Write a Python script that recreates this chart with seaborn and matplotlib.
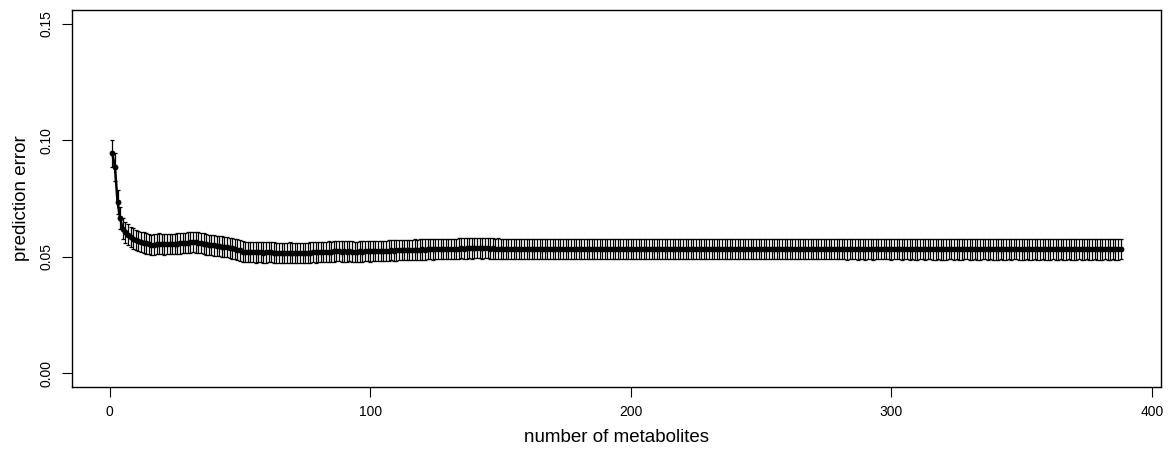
import numpy as np
import pandas as pd
import matplotlib
matplotlib.use("Agg")
import matplotlib.pyplot as plt
import seaborn as sns

# ---- data ----
mean_error = [
    0.0945, 0.0885, 0.0735, 0.0665, 0.0620, 0.0605, 0.0595, 0.0585, 0.0578, 0.0572,  # 1-10
    0.0568, 0.0563, 0.0560, 0.0557, 0.0553, 0.0551, 0.0552, 0.0555, 0.0556, 0.0554,  # 11-20
    0.0553, 0.0554, 0.0555, 0.0554, 0.0555, 0.0556, 0.0557, 0.0558, 0.0559, 0.0560,  # 21-30
    0.0561, 0.0562, 0.0561, 0.0560, 0.0558, 0.0556, 0.0553, 0.0551, 0.0550, 0.0549,  # 31-40
    0.0547, 0.0545, 0.0543, 0.0542, 0.0540, 0.0538, 0.0536, 0.0534, 0.0530, 0.0527,  # 41-50
    0.0522, 0.0520, 0.0519, 0.0520, 0.0519, 0.0518, 0.0519, 0.0518, 0.0517, 0.0518,  # 51-60
    0.0519, 0.0518, 0.0517, 0.0516, 0.0517, 0.0516, 0.0515, 0.0516, 0.0517, 0.0516,  # 61-70
    0.0515, 0.0516, 0.0515, 0.0516, 0.0517, 0.0516, 0.0517, 0.0518, 0.0518, 0.0519,  # 71-80
    0.0520, 0.0521, 0.0521, 0.0522, 0.0522, 0.0523, 0.0524, 0.0523, 0.0522, 0.0523,  # 81-90
    0.0522, 0.0523, 0.0522, 0.0521, 0.0522, 0.0523, 0.0522, 0.0523, 0.0524, 0.0523,  # 91-100
    0.0524, 0.0525, 0.0524, 0.0525, 0.0526, 0.0525, 0.0526, 0.0527, 0.0526, 0.0527,  # 101-110
    0.0528, 0.0527, 0.0528, 0.0529, 0.0528, 0.0529, 0.0530, 0.0529, 0.0530, 0.0531,  # 111-120
    0.0530, 0.0531, 0.0532, 0.0531, 0.0532, 0.0533, 0.0532, 0.0533, 0.0534, 0.0533,  # 121-130
    0.0534, 0.0535, 0.0534, 0.0535, 0.0536, 0.0535, 0.0536, 0.0537, 0.0536, 0.0537,  # 131-140
    0.0538, 0.0537, 0.0536, 0.0537, 0.0536, 0.0535, 0.0536, 0.0535, 0.0535, 0.0534,  # 141-150
    0.0534, 0.0533, 0.0534, 0.0533, 0.0533, 0.0534, 0.0533, 0.0533, 0.0532, 0.0533,  # 151-160
    0.0533, 0.0532, 0.0533, 0.0533, 0.0532, 0.0533, 0.0533, 0.0532, 0.0532, 0.0533,  # 161-170
    0.0533, 0.0532, 0.0533, 0.0532, 0.0533, 0.0533, 0.0532, 0.0533, 0.0533, 0.0532,  # 171-180
    0.0533, 0.0533, 0.0532, 0.0533, 0.0532, 0.0533, 0.0533, 0.0532, 0.0533, 0.0533,  # 181-190
    0.0532, 0.0533, 0.0533, 0.0532, 0.0533, 0.0532, 0.0533, 0.0532, 0.0533, 0.0533,  # 191-200
    0.0532, 0.0533, 0.0532, 0.0533, 0.0533, 0.0532, 0.0533, 0.0532, 0.0532, 0.0533,  # 201-210
    0.0533, 0.0532, 0.0533, 0.0532, 0.0533, 0.0533, 0.0532, 0.0533, 0.0532, 0.0533,  # 211-220
    0.0533, 0.0532, 0.0532, 0.0533, 0.0532, 0.0533, 0.0533, 0.0532, 0.0533, 0.0532,  # 221-230
    0.0532, 0.0533, 0.0532, 0.0533, 0.0532, 0.0532, 0.0533, 0.0532, 0.0533, 0.0532,  # 231-240
    0.0532, 0.0533, 0.0532, 0.0532, 0.0533, 0.0532, 0.0532, 0.0533, 0.0532, 0.0532,  # 241-250
    0.0532, 0.0533, 0.0532, 0.0532, 0.0532, 0.0533, 0.0532, 0.0532, 0.0532, 0.0533,  # 251-260
    0.0532, 0.0532, 0.0532, 0.0532, 0.0533, 0.0532, 0.0532, 0.0532, 0.0532, 0.0532,  # 261-270
    0.0533, 0.0532, 0.0532, 0.0532, 0.0532, 0.0532, 0.0532, 0.0531, 0.0532, 0.0532,  # 271-280
    0.0532, 0.0532, 0.0531, 0.0532, 0.0532, 0.0532, 0.0531, 0.0532, 0.0532, 0.0531,  # 281-290
    0.0532, 0.0532, 0.0531, 0.0532, 0.0531, 0.0532, 0.0532, 0.0531, 0.0532, 0.0531,  # 291-300
    0.0532, 0.0531, 0.0532, 0.0531, 0.0531, 0.0532, 0.0531, 0.0532, 0.0531, 0.0531,  # 301-310
    0.0532, 0.0531, 0.0531, 0.0532, 0.0531, 0.0531, 0.0531, 0.0532, 0.0531, 0.0531,  # 311-320
    0.0531, 0.0531, 0.0532, 0.0531, 0.0531, 0.0531, 0.0531, 0.0531, 0.0532, 0.0531,  # 321-330
    0.0531, 0.0531, 0.0531, 0.0531, 0.0531, 0.0532, 0.0531, 0.0531, 0.0531, 0.0531,  # 331-340
    0.0531, 0.0531, 0.0531, 0.0531, 0.0531, 0.0531, 0.0532, 0.0531, 0.0531, 0.0531,  # 341-350
    0.0531, 0.0531, 0.0531, 0.0531, 0.0531, 0.0531, 0.0531, 0.0531, 0.0531, 0.0531,  # 351-360
    0.0531, 0.0531, 0.0531, 0.0531, 0.0531, 0.0531, 0.0531, 0.0531, 0.0531, 0.0531,  # 361-370
    0.0531, 0.0531, 0.0531, 0.0531, 0.0531, 0.0531, 0.0531, 0.0531, 0.0531, 0.0531,  # 371-380
    0.0531, 0.0531, 0.0531, 0.0531, 0.0531, 0.0531, 0.0531, 0.0531,                  # 381-388
]

error_sd = [
    0.0058, 0.0060, 0.0052, 0.0048, 0.0046, 0.0045, 0.0045, 0.0044, 0.0044, 0.0044,  # 1-10
    0.0044, 0.0043, 0.0044, 0.0044, 0.0043, 0.0044, 0.0044, 0.0043, 0.0044, 0.0044,  # 11-20
    0.0044, 0.0043, 0.0044, 0.0044, 0.0043, 0.0044, 0.0044, 0.0043, 0.0044, 0.0044,  # 21-30
    0.0044, 0.0043, 0.0044, 0.0044, 0.0043, 0.0044, 0.0044, 0.0043, 0.0044, 0.0044,  # 31-40
    0.0044, 0.0043, 0.0044, 0.0044, 0.0043, 0.0044, 0.0044, 0.0043, 0.0044, 0.0044,  # 41-50
    0.0044, 0.0043, 0.0044, 0.0044, 0.0043, 0.0044, 0.0044, 0.0043, 0.0044, 0.0044,  # 51-60
    0.0044, 0.0043, 0.0044, 0.0044, 0.0043, 0.0044, 0.0044, 0.0043, 0.0044, 0.0044,  # 61-70
    0.0044, 0.0043, 0.0044, 0.0044, 0.0043, 0.0044, 0.0044, 0.0043, 0.0044, 0.0044,  # 71-80
    0.0044, 0.0043, 0.0044, 0.0044, 0.0043, 0.0044, 0.0044, 0.0043, 0.0044, 0.0044,  # 81-90
    0.0044, 0.0043, 0.0044, 0.0044, 0.0043, 0.0044, 0.0044, 0.0043, 0.0044, 0.0044,  # 91-100
    0.0044, 0.0043, 0.0044, 0.0044, 0.0043, 0.0044, 0.0044, 0.0043, 0.0044, 0.0044,  # 101-110
    0.0044, 0.0043, 0.0044, 0.0044, 0.0043, 0.0044, 0.0044, 0.0043, 0.0044, 0.0044,  # 111-120
    0.0044, 0.0043, 0.0044, 0.0044, 0.0043, 0.0044, 0.0044, 0.0043, 0.0044, 0.0044,  # 121-130
    0.0044, 0.0043, 0.0044, 0.0044, 0.0043, 0.0044, 0.0044, 0.0043, 0.0044, 0.0044,  # 131-140
    0.0044, 0.0043, 0.0044, 0.0044, 0.0043, 0.0044, 0.0044, 0.0043, 0.0044, 0.0044,  # 141-150
    0.0044, 0.0043, 0.0044, 0.0044, 0.0043, 0.0044, 0.0044, 0.0043, 0.0044, 0.0044,  # 151-160
    0.0044, 0.0043, 0.0044, 0.0044, 0.0043, 0.0044, 0.0044, 0.0043, 0.0044, 0.0044,  # 161-170
    0.0044, 0.0043, 0.0044, 0.0044, 0.0043, 0.0044, 0.0044, 0.0043, 0.0044, 0.0044,  # 171-180
    0.0044, 0.0043, 0.0044, 0.0044, 0.0043, 0.0044, 0.0044, 0.0043, 0.0044, 0.0044,  # 181-190
    0.0044, 0.0043, 0.0044, 0.0044, 0.0043, 0.0044, 0.0044, 0.0043, 0.0044, 0.0044,  # 191-200
    0.0044, 0.0043, 0.0044, 0.0044, 0.0043, 0.0044, 0.0044, 0.0043, 0.0044, 0.0044,  # 201-210
    0.0044, 0.0043, 0.0044, 0.0044, 0.0043, 0.0044, 0.0044, 0.0043, 0.0044, 0.0044,  # 211-220
    0.0044, 0.0043, 0.0044, 0.0044, 0.0043, 0.0044, 0.0044, 0.0043, 0.0044, 0.0044,  # 221-230
    0.0044, 0.0043, 0.0044, 0.0044, 0.0043, 0.0044, 0.0044, 0.0043, 0.0044, 0.0044,  # 231-240
    0.0044, 0.0043, 0.0044, 0.0044, 0.0043, 0.0044, 0.0044, 0.0043, 0.0044, 0.0044,  # 241-250
    0.0044, 0.0043, 0.0044, 0.0044, 0.0043, 0.0044, 0.0044, 0.0043, 0.0044, 0.0044,  # 251-260
    0.0044, 0.0043, 0.0044, 0.0044, 0.0043, 0.0044, 0.0044, 0.0043, 0.0044, 0.0044,  # 261-270
    0.0044, 0.0043, 0.0044, 0.0044, 0.0043, 0.0044, 0.0044, 0.0043, 0.0044, 0.0044,  # 271-280
    0.0044, 0.0043, 0.0044, 0.0044, 0.0043, 0.0044, 0.0044, 0.0043, 0.0044, 0.0044,  # 281-290
    0.0044, 0.0043, 0.0044, 0.0044, 0.0043, 0.0044, 0.0044, 0.0043, 0.0044, 0.0044,  # 291-300
    0.0044, 0.0043, 0.0044, 0.0044, 0.0043, 0.0044, 0.0044, 0.0043, 0.0044, 0.0044,  # 301-310
    0.0044, 0.0043, 0.0044, 0.0044, 0.0043, 0.0044, 0.0044, 0.0043, 0.0044, 0.0044,  # 311-320
    0.0044, 0.0043, 0.0044, 0.0044, 0.0043, 0.0044, 0.0044, 0.0043, 0.0044, 0.0044,  # 321-330
    0.0044, 0.0043, 0.0044, 0.0044, 0.0043, 0.0044, 0.0044, 0.0043, 0.0044, 0.0044,  # 331-340
    0.0044, 0.0043, 0.0044, 0.0044, 0.0043, 0.0044, 0.0044, 0.0043, 0.0044, 0.0044,  # 341-350
    0.0044, 0.0043, 0.0044, 0.0044, 0.0043, 0.0044, 0.0044, 0.0043, 0.0044, 0.0044,  # 351-360
    0.0044, 0.0043, 0.0044, 0.0044, 0.0043, 0.0044, 0.0044, 0.0043, 0.0044, 0.0044,  # 361-370
    0.0044, 0.0043, 0.0044, 0.0044, 0.0043, 0.0044, 0.0044, 0.0043, 0.0044, 0.0044,  # 371-380
    0.0044, 0.0043, 0.0044, 0.0044, 0.0043, 0.0044, 0.0044, 0.0043,                  # 381-388
]

n_metabolites = list(range(1, len(mean_error) + 1))

x_ticks = [0, 100, 200, 300, 400]
y_ticks = [0.00, 0.05, 0.10, 0.15]
y_tick_labels = ["0.00", "0.05", "0.10", "0.15"]
x_label = "number of metabolites"
y_label = "prediction error"

df = pd.DataFrame({"n": n_metabolites, "err": mean_error, "sd": error_sd})

# ---- style ----
sns.set_style("white")
plt.rcParams["font.family"] = ["Liberation Sans", "DejaVu Sans"]
plt.rcParams["text.color"] = "black"
plt.rcParams["axes.labelcolor"] = "black"
plt.rcParams["xtick.color"] = "black"
plt.rcParams["ytick.color"] = "black"

fig = plt.figure(figsize=(11.75, 4.51), dpi=100)
ax = fig.add_axes([72 / 1175, 1 - 387 / 451, (1161 - 72) / 1175, (387 - 10) / 451])

ax.errorbar(df["n"], df["err"], yerr=df["sd"], fmt="none", ecolor="black",
            elinewidth=0.9, capsize=1.2, capthick=0.9, zorder=2)
sns.lineplot(data=df, x="n", y="err", ax=ax, color="black", linewidth=1.8,
             marker="o", markersize=4.2, markeredgewidth=0, zorder=3)

# R-like axes with 4% padding
xr = (min(n_metabolites), max(n_metabolites))
pad = 0.04 * (xr[1] - xr[0])
ax.set_xlim(xr[0] - pad, xr[1] + pad)
ax.set_ylim(0 - 0.04 * 0.15, 0.15 + 0.04 * 0.15)

ax.set_xticks(x_ticks)
ax.set_xticklabels([str(t) for t in x_ticks], fontsize=10, color="black")
ax.set_yticks(y_ticks)
ax.set_yticklabels(y_tick_labels, fontsize=10, rotation=90, va="center", color="black")

ax.tick_params(axis="both", direction="out", length=7, width=0.8, color="black",
               bottom=True, left=True, pad=6)
for s in ax.spines.values():
    s.set_visible(True)
    s.set_color("black")
    s.set_linewidth(1.0)

ax.set_xlabel(x_label, fontsize=13.5, labelpad=7, color="black")
ax.set_ylabel(y_label, fontsize=13.5, labelpad=7, color="black")

fig.savefig("out.png", dpi=100)
